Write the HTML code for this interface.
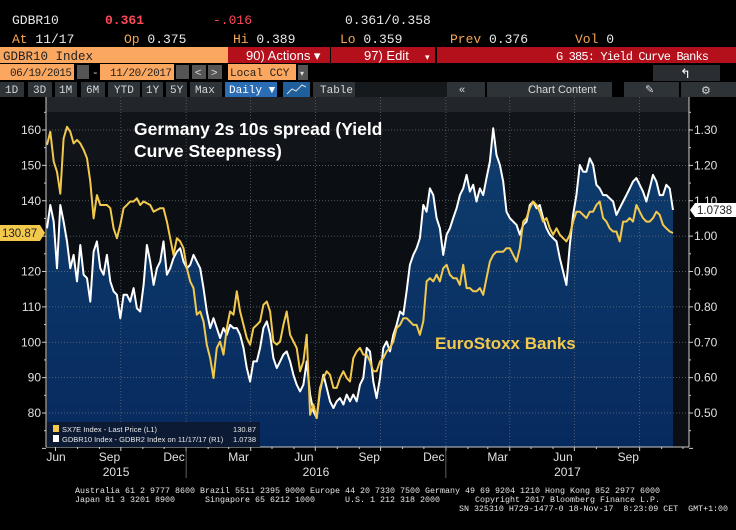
<!DOCTYPE html>
<html><head><meta charset="utf-8"><style>
html,body{margin:0;padding:0;background:#000;width:736px;height:530px;overflow:hidden}
svg{display:block}
.m{font-family:"Liberation Mono",monospace}
.s{font-family:"Liberation Sans",sans-serif}
</style></head><body>
<svg id="root" width="736" height="530" viewBox="0 0 736 530" xmlns="http://www.w3.org/2000/svg">
<rect x="0" y="0" width="736" height="530" fill="#000"/>
<g class="m" font-size="13">
<text x="12" y="24" fill="#e8e8e8">GDBR10</text>
<text x="105" y="24" fill="#ff4a5a" font-weight="bold">0.361</text>
<text x="213" y="24" fill="#ff4a5a">-.016</text>
<text x="345" y="24" fill="#e8e8e8">0.361/0.358</text>
<text x="12" y="43" fill="#f6a650">At <tspan fill="#e8e8e8">11/17</tspan></text>
<text x="124" y="43" fill="#f6a650">Op <tspan fill="#e8e8e8">0.375</tspan></text>
<text x="233" y="43" fill="#f6a650">Hi <tspan fill="#e8e8e8">0.389</tspan></text>
<text x="340" y="43" fill="#f6a650">Lo <tspan fill="#e8e8e8">0.359</tspan></text>
<text x="450" y="43" fill="#f6a650">Prev  <tspan fill="#e8e8e8">0.376</tspan></text>
<text x="575" y="43" fill="#f6a650">Vol <tspan fill="#e8e8e8">0</tspan></text>
</g>
<rect x="0" y="47" width="228" height="16" fill="#fba75f"/>
<text x="3" y="60" class="m" font-size="12.5" fill="#222">GDBR10 Index</text>
<rect x="228" y="47" width="102" height="16" fill="#b3101c"/>
<text x="246" y="60" class="s" font-size="13" fill="#fff">90) Actions ▾</text>
<rect x="331" y="47" width="104" height="16" fill="#b3101c"/>
<text x="364" y="60" class="s" font-size="13" fill="#fff">97) Edit</text>
<text x="425" y="60" class="s" font-size="9" fill="#fff">▾</text>
<rect x="437" y="47" width="299" height="16" fill="#b3101c"/>
<text x="556" y="60" class="m" font-size="12" fill="#fff" textLength="153">G 385: Yield Curve Banks</text>
<rect x="0" y="64" width="74" height="16" fill="#fba75f"/>
<text x="10" y="76" class="m" font-size="11" fill="#222" textLength="62">06/19/2015</text>
<rect x="77" y="65" width="12" height="14" fill="#555"/>
<text x="92" y="76" class="m" font-size="11" fill="#ddd">-</text>
<rect x="100" y="64" width="74" height="16" fill="#fba75f"/>
<text x="110" y="76" class="m" font-size="11" fill="#222" textLength="62">11/20/2017</text>
<rect x="176" y="65" width="13" height="14" fill="#555"/>
<rect x="192" y="65" width="14" height="14" fill="#555"/>
<text x="195" y="76" class="s" font-size="11" fill="#ddd">&lt;</text>
<rect x="208" y="65" width="14" height="14" fill="#555"/>
<text x="211" y="76" class="s" font-size="11" fill="#ddd">&gt;</text>
<rect x="228" y="64" width="68" height="16" fill="#fba75f"/>
<text x="230" y="76" class="m" font-size="11" fill="#222">Local CCY</text>
<rect x="298" y="65" width="10" height="15" fill="#555"/>
<text x="300" y="76" class="s" font-size="8" fill="#ddd">▾</text>
<rect x="653" y="65" width="67" height="16" fill="#2a2e33"/>
<text x="680" y="78" class="s" font-size="13" fill="#fff">↰</text>
<g class="m" font-size="11" fill="#d8d8d8">
<rect x="0" y="82" width="24" height="15" fill="#2e3338"/><text x="5" y="93">1D</text>
<rect x="28" y="82" width="24" height="15" fill="#2e3338"/><text x="33" y="93">3D</text>
<rect x="55" y="82" width="22" height="15" fill="#2e3338"/><text x="59" y="93">1M</text>
<rect x="81" y="82" width="24" height="15" fill="#2e3338"/><text x="86" y="93">6M</text>
<rect x="108" y="82" width="32" height="15" fill="#2e3338"/><text x="114" y="93">YTD</text>
<rect x="142" y="82" width="21" height="15" fill="#2e3338"/><text x="146" y="93">1Y</text>
<rect x="166" y="82" width="21" height="15" fill="#2e3338"/><text x="170" y="93">5Y</text>
<rect x="190" y="82" width="32" height="15" fill="#2e3338"/><text x="195" y="93">Max</text>
<rect x="225" y="82" width="52" height="15" fill="#2a6db5"/><text x="229" y="93" fill="#fff">Daily ▼</text>
<rect x="283" y="82" width="27" height="15" fill="#1f5f9c"/>
<polyline points="287,94 292,89 296,91 302,85 306,87" fill="none" stroke="#ddd" stroke-width="1"/>
<rect x="313" y="82" width="42" height="15" fill="#2e3338"/><text x="320" y="93">Table</text>
<rect x="355" y="82" width="92" height="15" fill="#16191c"/>
<rect x="447" y="82" width="38" height="15" fill="#2e3338"/><text x="459" y="93" class="s">«</text>
<rect x="487" y="82" width="125" height="15" fill="#2e3338"/><text x="528" y="93" class="s">Chart Content</text>
<rect x="624" y="82" width="55" height="15" fill="#2e3338"/><text x="645" y="93" class="s">✎</text>
<rect x="681" y="82" width="55" height="15" fill="#2e3338"/><text x="701" y="94" class="s">⚙</text>
</g>
<g id="chart"></g>
<g class="m" font-size="8.5" fill="#e6e6e6">
<text x="75" y="493" textLength="585" lengthAdjust="spacingAndGlyphs">Australia 61 2 9777 8600 Brazil 5511 2395 9000 Europe 44 20 7330 7500 Germany 49 69 9204 1210 Hong Kong 852 2977 6000</text>
<text x="75" y="502" xml:space="preserve" textLength="585" lengthAdjust="spacingAndGlyphs">Japan 81 3 3201 8900      Singapore 65 6212 1000      U.S. 1 212 318 2000       Copyright 2017 Bloomberg Finance L.P.</text>
<text x="459" y="511" xml:space="preserve" textLength="269" lengthAdjust="spacingAndGlyphs">SN 325310 H729-1477-0 18-Nov-17  8:23:09 CET  GMT+1:00</text>
</g>
</svg>
<script>
const sx7eValues=[155.8,159.5,151.1,148.2,142,157.6,160.9,159.5,156.2,157.2,156.2,154.4,152,145.4,135,141.6,138.8,138.8,138.8,137.9,132.2,129.4,133.2,137.9,138.8,139.8,139.8,140.7,138.8,139.8,139.3,138.8,136.9,137.4,137.9,137.9,134.1,129.4,124.7,129.4,128.5,126.6,120.9,117.2,115.3,107.8,108.7,105.9,99.3,95.5,89.9,98.4,100.2,96.5,104,108.7,107.8,114.4,108.7,104.9,101.2,99.3,104,104.9,105.9,110.6,111.5,108.7,100.2,99.3,100.2,104.9,108.7,102.1,100.2,98.4,91.8,94.6,102.1,79.5,82.4,78.6,87.1,89.9,91.8,90.8,87.1,87.1,89.9,91.8,89.9,88.9,95.5,97.4,98.4,96.5,
96.5,94.6,91.8,91.8,94.6,95.5,97.4,98.4,100.2,104,104.9,106.8,106.8,105.9,104.9,104.9,102.1,105.9,117.2,118.1,117.2,119.1,117.2,120.9,121.9,119.1,118.1,118.1,116.2,121.9,115.3,115.3,114.4,114.4,115.3,113.4,118.1,122.8,124.7,125.6,125.6,125.6,126.6,126.6,124.7,122.8,126.6,134.1,135.1,137.9,139.8,138.8,136.9,134.1,135.1,132.2,130.4,132.2,130.4,129.4,128.5,130.4,134.1,136.9,136.9,136,135.1,136.9,136.9,138.8,139.8,135.1,134.1,132.2,131.3,131.3,128.5,134.1,134.1,135.1,134.1,138.8,136.9,135.1,134.1,134.1,135.1,136.9,136,133.2,132.2,131.3,130.87];
const spreadValues=[1.022,1.088,1.041,0.909,1.088,1.041,0.985,0.909,0.947,0.872,0.975,0.891,0.881,0.815,0.956,0.985,0.909,0.891,0.947,0.872,0.844,0.834,0.768,0.834,0.834,0.815,0.853,0.796,0.787,0.862,0.975,0.928,0.862,0.909,0.928,0.985,0.891,0.909,0.938,0.956,0.966,0.928,0.909,0.919,0.947,0.928,0.909,0.853,0.787,0.740,0.768,0.740,0.712,0.740,0.721,0.749,0.740,0.740,0.721,0.684,0.627,0.589,0.646,0.646,0.684,0.740,0.759,0.721,0.655,0.627,0.646,0.665,0.674,0.646,0.608,0.580,0.561,0.580,0.646,0.552,0.505,0.486,0.561,0.608,0.571,0.533,0.514,0.533,0.542,0.524,0.552,0.533,0.552,0.533,0.580,0.599,
0.684,0.674,0.589,0.542,0.599,0.684,0.702,0.674,0.721,0.749,0.787,0.778,0.844,0.919,0.947,0.966,0.994,1.088,1.069,1.135,1.116,1.051,1.022,0.947,1.004,1.022,1.051,1.079,1.116,1.135,1.173,1.126,1.145,1.098,1.135,1.116,1.164,1.211,1.305,1.229,1.201,1.154,1.069,1.051,1.041,1.032,1.004,1.032,1.041,1.088,1.098,1.079,1.088,1.051,1.022,1.004,0.994,0.985,0.938,0.900,0.862,0.975,1.060,1.116,1.201,1.182,1.182,1.220,1.201,1.145,1.135,1.116,1.116,1.107,1.098,1.060,1.079,1.098,1.116,1.135,1.154,1.164,1.145,1.126,1.098,1.135,1.173,1.154,1.116,1.116,1.145,1.135,1.0738];
const leftTicks=[80,90,100,110,120,130,140,150,160];
const rightTicks=[0.5,0.6,0.7,0.8,0.9,1.0,1.1,1.2,1.3];
const monthLabels=[["Jun",2015,6],["Sep",2015,9],["Dec",2015,12],["Mar",2016,3],["Jun",2016,6],["Sep",2016,9],["Dec",2016,12],["Mar",2017,3],["Jun",2017,6],["Sep",2017,9]];
const yearLabels=["2015","2016","2017"];
const startDate=Date.UTC(2015,5,19), endDate=Date.UTC(2017,10,17);
const lastSx7e="130.87", lastSpread="1.0738";

const NS="http://www.w3.org/2000/svg";
const P={l:46,r:689,t:97,b:447,dl:47,dr:673};
const yL=v=>413-(v-80)*3.5375;
const yR=v=>yL(80+(v-0.5)*100);
const xD=t=>P.dl+(t-startDate)/(endDate-startDate)*(P.dr-P.dl);
const xI=(i,n)=>xD(startDate+i*(endDate-startDate)/(n-1));
const g=document.getElementById('chart');
function mk(tag,attrs,parent){const e=document.createElementNS(NS,tag);for(const k in attrs)e.setAttribute(k,attrs[k]);(parent||g).appendChild(e);return e;}
function txt(s,attrs,parent){const e=mk('text',attrs,parent);e.textContent=s;return e;}

const bg=mk('rect',{x:P.l,y:P.t,width:P.r-P.l,height:P.b-P.t,fill:'#0b0e12'});


mk('rect',{x:P.l,y:P.t,width:P.r-P.l,height:15,fill:'#22262a'});
mk('rect',{x:P.l,y:P.t+15,width:P.r-P.l,height:50,fill:'#111418'});
const defs=mk('defs',{});
const lg=mk('linearGradient',{id:'af',x1:0,y1:0,x2:0,y2:1},defs);
mk('stop',{offset:0,'stop-color':'#0f3d6e'},lg);mk('stop',{offset:1,'stop-color':'#072a5e'},lg);

const n2=spreadValues.length;
let d='M'+xI(0,n2).toFixed(1)+','+P.b;
spreadValues.forEach((v,i)=>{d+=' L'+xI(i,n2).toFixed(1)+','+yR(v).toFixed(1);});
d+=' L'+xI(n2-1,n2).toFixed(1)+','+P.b+' Z';
const area=mk('path',{d:d,fill:'url(#af)'});



leftTicks.forEach(v=>{const l=mk('line',{x1:P.l,x2:P.r,y1:yL(v),y2:yL(v),stroke:'#6a7078','stroke-width':0.7,'stroke-dasharray':'1,2'});

});
[[2015,9],[2016,0],[2016,3],[2016,6],[2016,9],[2017,0],[2017,3],[2017,6],[2017,9]].forEach(q=>{const x=xD(Date.UTC(q[0],q[1],1));
const l=mk('line',{x1:x,x2:x,y1:P.t,y2:P.b,stroke:'#6a7078','stroke-width':0.7,'stroke-dasharray':'1,2'});

});

function line(vals,yf,col,name){const n=vals.length;const pts=vals.map((v,i)=>xI(i,n).toFixed(1)+','+yf(v).toFixed(1)).join(' ');
const p=mk('polyline',{points:pts,fill:'none',stroke:col,'stroke-width':2,'stroke-linejoin':'round'});

}
line(spreadValues,yR,'#ffffff','spread-line');
line(sx7eValues,yL,'#f2c94c','sx7e-line');

mk('line',{x1:P.l,x2:P.l,y1:P.t,y2:P.b,stroke:'#ccc','stroke-width':1});
mk('line',{x1:P.r,x2:P.r,y1:P.t,y2:P.b,stroke:'#ccc','stroke-width':1});
mk('line',{x1:P.l,x2:P.r,y1:P.b,y2:P.b,stroke:'#ccc','stroke-width':1});
for(let v=70;v<=165;v+=5){mk('line',{x1:P.l-(v%10?2:4),x2:P.l,y1:yL(v),y2:yL(v),stroke:'#ccc'});}
for(let v=0.4;v<=1.36;v+=0.05){mk('line',{x1:P.r,x2:P.r+(Math.round(v*100)%10?2:4),y1:yR(v),y2:yR(v),stroke:'#ccc'});}
leftTicks.forEach(v=>{const t=txt(String(v),{x:P.l-5,y:yL(v)+4,'text-anchor':'end',fill:'#e0e0e0','font-size':12,class:'s'});

});
rightTicks.forEach(v=>{const t=txt(v.toFixed(2),{x:P.r+5,y:yR(v)+4,fill:'#e0e0e0','font-size':12,class:'s'});

});
monthLabels.forEach(m=>{let x=xD(Date.UTC(m[1],m[2]-1,15));if(x<56)x=56;
const t=txt(m[0],{x:x,y:461,'text-anchor':'middle',fill:'#e0e0e0','font-size':12,class:'s'});

});
for(let y=2015;y<=2017;y++){for(let mo=0;mo<12;mo++){const x=xD(Date.UTC(y,mo,1));if(x>P.l&&x<P.r)mk('line',{x1:x,x2:x,y1:P.b,y2:P.b+(mo%3==0?4:2),stroke:'#ccc'});}}
const yb=[P.l,xD(Date.UTC(2016,0,1)),xD(Date.UTC(2017,0,1)),P.r];
yearLabels.forEach((s,i)=>{const t=txt(s,{x:(yb[i]+yb[i+1])/2,y:476,'text-anchor':'middle',fill:'#e0e0e0','font-size':12,class:'s'});

});
[1,2].forEach(i=>mk('line',{x1:yb[i],x2:yb[i],y1:P.b,y2:478,stroke:'#888','stroke-width':0.7}));

const t1=txt('Germany 2s 10s spread (Yield',{x:134,y:135,fill:'#fff','font-size':17.5,'font-weight':'bold',class:'s'});


txt('Curve Steepness)',{x:134,y:157,fill:'#fff','font-size':17.5,'font-weight':'bold',class:'s'});
const t2=txt('EuroStoxx Banks',{x:435,y:349,fill:'#f2c94c','font-size':17,'font-weight':'bold',class:'s'});



const vy=yL(+lastSx7e);
const tagL=mk('path',{d:`M0,${vy-8} H40 L45,${vy} L40,${vy+8} H0 Z`,fill:'#f2c94c'});


txt(lastSx7e,{x:2,y:vy+4,fill:'#222','font-size':11.5,class:'s'});
const ry=yR(+lastSpread);
const tagR=mk('path',{d:`M690,${ry} L695,${ry-7} H736 V${ry+7} H695 Z`,fill:'#fff'});


txt(lastSpread,{x:697,y:ry+4,fill:'#222','font-size':11.5,class:'s'});

const lgd=mk('g',{});


mk('rect',{x:P.l+1,y:422,width:213,height:25,fill:'#0c1a33'},lgd);
mk('rect',{x:53,y:425,width:6,height:7,fill:'#f2c94c'},lgd);
txt('SX7E Index - Last Price (L1)',{x:62,y:432,fill:'#e8e8e8','font-size':7.5,class:'s'},lgd);
txt(lastSx7e,{x:256,y:432,'text-anchor':'end',fill:'#e8e8e8','font-size':7.5,class:'s'},lgd);
mk('rect',{x:53,y:435,width:6,height:7,fill:'#fff'},lgd);
txt('GDBR10 Index - GDBR2 Index on 11/17/17 (R1)',{x:62,y:442,fill:'#e8e8e8','font-size':7.5,class:'s'},lgd);
txt(lastSpread,{x:256,y:442,'text-anchor':'end',fill:'#e8e8e8','font-size':7.5,class:'s'},lgd);
</script>
</body></html>
